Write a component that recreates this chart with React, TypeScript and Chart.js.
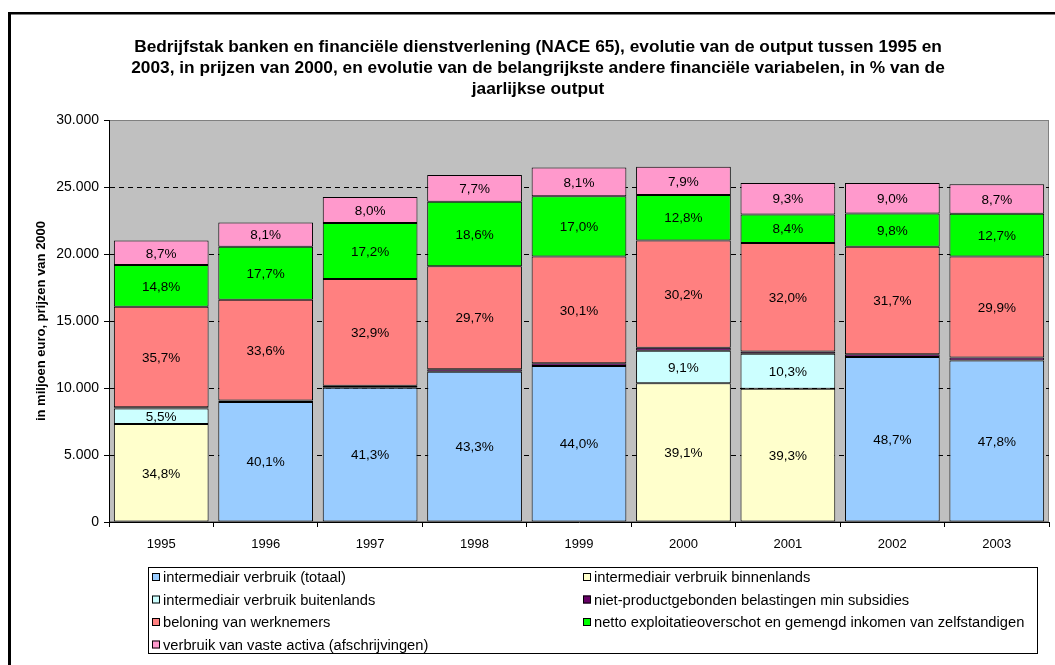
import React, { useEffect, useRef } from 'react';
import { Chart, registerables } from 'chart.js';

Chart.register(...registerables);

const FONT = '"Liberation Sans", Arial, sans-serif';

const titleLines = [
  'Bedrijfstak banken en financiële dienstverlening (NACE 65), evolutie van de output tussen 1995 en',
  '2003, in prijzen van 2000, en evolutie van de belangrijkste andere financiële variabelen, in % van de',
  'jaarlijkse output',
];
const yAxisTitle = 'in miljoen euro, prijzen van 2000';

const years = ['1995', '1996', '1997', '1998', '1999', '2000', '2001', '2002', '2003'];

// values in million euro
const totaalValues = [null, 8962, 10015, 11215, 11638, null, null, 12321, 12046];
const binnenlandsValues = [7308, null, null, null, null, 10362, 9943, null, null];
const buitenlandsValues = [1155, null, null, null, null, 2412, 2606, null, null];
const belastingValues = [105, 112, 146, 181, 212, 239, 177, 202, 227];
const beloningValues = [7497, 7510, 7978, 7692, 7961, 8003, 8096, 8020, 7535];
const nettoValues = [3108, 3956, 4171, 4817, 4497, 3392, 2125, 2479, 3200];
const afschrijvingValues = [1827, 1810, 1940, 1994, 2142, 2094, 2353, 2277, 2192];

// percentage labels (% of yearly output)
const totaalPct = [null, 40.1, 41.3, 43.3, 44.0, null, null, 48.7, 47.8];
const binnenlandsPct = [34.8, null, null, null, null, 39.1, 39.3, null, null];
const buitenlandsPct = [5.5, null, null, null, null, 9.1, 10.3, null, null];
const belastingPct = [null, null, null, null, null, null, null, null, null];
const beloningPct = [35.7, 33.6, 32.9, 29.7, 30.1, 30.2, 32.0, 31.7, 29.9];
const nettoPct = [14.8, 17.7, 17.2, 18.6, 17.0, 12.8, 8.4, 9.8, 12.7];
const afschrijvingPct = [8.7, 8.1, 8.0, 7.7, 8.1, 7.9, 9.3, 9.0, 8.7];

const seriesLabels = [
  'intermediair verbruik (totaal)',
  'intermediair verbruik binnenlands',
  'intermediair verbruik buitenlands',
  'niet-productgebonden belastingen min subsidies',
  'beloning van werknemers',
  'netto exploitatieoverschot en gemengd inkomen van zelfstandigen',
  'verbruik van vaste activa (afschrijvingen)',
];
const seriesColors = ['#99CCFF', '#FFFFCC', '#CCFFFF', '#660066', '#FF8080', '#00FF00', '#FF99CC'];
const seriesValues = [
  totaalValues,
  binnenlandsValues,
  buitenlandsValues,
  belastingValues,
  beloningValues,
  nettoValues,
  afschrijvingValues,
];
const seriesPct = [totaalPct, binnenlandsPct, buitenlandsPct, belastingPct, beloningPct, nettoPct, afschrijvingPct];

const yMin = 0;
const yMax = 30000;
const yStep = 5000;

const fmtThousands = (v: number) => String(v).replace(/\B(?=(\d{3})+(?!\d))/g, '.');
const fmtPct = (v: number) => v.toFixed(1).replace('.', ',') + '%';

const framePlugin = {
  id: 'frameAndBackground',
  beforeDraw(chart: any) {
    const { ctx, chartArea } = chart;
    ctx.save();
    ctx.fillStyle = '#FFFFFF';
    ctx.fillRect(0, 0, chart.width, chart.height);
    ctx.fillStyle = '#000000';
    ctx.fillRect(8, 12, 3, chart.height);
    ctx.fillRect(8, 12, chart.width, 2.5);
    ctx.fillStyle = '#C0C0C0';
    ctx.fillRect(chartArea.left, chartArea.top, chartArea.right - chartArea.left, chartArea.bottom - chartArea.top);
    ctx.strokeStyle = '#808080';
    ctx.lineWidth = 1;
    ctx.strokeRect(chartArea.left + 0.5, chartArea.top + 0.5, chartArea.right - chartArea.left - 1, chartArea.bottom - chartArea.top - 1);
    ctx.restore();
  },
};

const labelPlugin = {
  id: 'segmentLabels',
  afterDatasetsDraw(chart: any) {
    const { ctx } = chart;
    ctx.save();
    ctx.font = `13.5px ${FONT}`;
    ctx.fillStyle = '#000000';
    ctx.textAlign = 'center';
    ctx.textBaseline = 'middle';
    chart.data.datasets.forEach((ds: any, i: number) => {
      const meta = chart.getDatasetMeta(i);
      const pcts = seriesPct[i];
      meta.data.forEach((el: any, j: number) => {
        const p = pcts[j];
        if (p == null || ds.data[j] == null) return;
        const c = el.getCenterPoint();
        ctx.fillText(fmtPct(p), c.x, c.y + 1);
      });
    });
    ctx.restore();
  },
};

const legendPlugin = {
  id: 'gridLegend',
  afterDraw(chart: any) {
    const { ctx } = chart;
    const box = { x: 148, y: 567, w: 889, h: 86 };
    const colX = [152, 583];
    const rowY = [577, 599.5, 622, 644.5];
    ctx.save();
    ctx.fillStyle = '#FFFFFF';
    ctx.fillRect(box.x, box.y, box.w, box.h);
    ctx.strokeStyle = '#000000';
    ctx.lineWidth = 1;
    ctx.strokeRect(box.x + 0.5, box.y + 0.5, box.w, box.h);
    ctx.font = `14.7px ${FONT}`;
    ctx.textAlign = 'left';
    ctx.textBaseline = 'middle';
    chart.data.datasets.forEach((ds: any, i: number) => {
      const col = i % 2;
      const row = Math.floor(i / 2);
      const x = colX[col];
      const y = rowY[row];
      ctx.fillStyle = ds.backgroundColor;
      ctx.fillRect(x, y - 4, 8, 8);
      ctx.strokeStyle = '#000000';
      ctx.strokeRect(x + 0.5, y - 3.5, 7, 7);
      ctx.fillStyle = '#000000';
      ctx.fillText(ds.label, x + 11, y + 1);
    });
    ctx.restore();
  },
};

export default function App() {
  const canvasRef = useRef<HTMLCanvasElement | null>(null);

  useEffect(() => {
    const canvas = canvasRef.current;
    if (!canvas) return;
    Chart.defaults.font.family = FONT;
    Chart.defaults.color = '#000000';

    const chart = new Chart(canvas, {
      type: 'bar',
      data: {
        labels: years,
        datasets: seriesLabels.map((label, i) => ({
          label,
          data: seriesValues[i],
          backgroundColor: seriesColors[i],
          borderColor: '#000000',
          borderWidth: 1,
          borderSkipped: false,
          barPercentage: 0.907,
          categoryPercentage: 1,
        })),
      },
      options: {
        responsive: false,
        animation: false,
        layout: { padding: { top: 15, left: 27, right: 6, bottom: 113 } },
        plugins: {
          legend: { display: false },
          tooltip: { enabled: false },
          title: {
            display: true,
            text: titleLines,
            color: '#000000',
            font: { size: 17.3, weight: 'bold', family: FONT, lineHeight: 21 / 17.3 },
            padding: { top: 22, bottom: 20 },
          },
        },
        scales: {
          x: {
            stacked: true,
            afterFit: (s: any) => {
              s.height = 30;
            },
            grid: {
              display: true,
              drawOnChartArea: false,
              drawTicks: true,
              tickLength: 5,
              tickColor: '#000000',
              offset: true,
            },
            border: { display: true, color: '#000000', width: 1 },
            ticks: { font: { size: 13, family: FONT }, color: '#000000', padding: 10, maxRotation: 0 },
          },
          y: {
            stacked: true,
            min: yMin,
            max: yMax,
            afterFit: (s: any) => {
              s.width = 82;
            },
            grid: {
              display: true,
              drawOnChartArea: true,
              drawTicks: true,
              tickLength: 5,
              tickColor: '#000000',
              tickBorderDash: [],
              color: (ctx: any) =>
                ctx.tick && (ctx.tick.value === yMax || ctx.tick.value === yMin) ? 'rgba(0,0,0,0)' : '#000000',
              lineWidth: 1,
            },
            border: { display: true, color: '#000000', width: 1, dash: [5, 4] },
            ticks: {
              stepSize: yStep,
              font: { size: 14, family: FONT },
              color: '#000000',
              padding: 5,
              callback: (v: any) => fmtThousands(Number(v)),
            },
            title: {
              display: true,
              text: yAxisTitle,
              color: '#000000',
              font: { size: 13, weight: 'bold', family: FONT },
              padding: { top: 7, bottom: 0 },
            },
          },
        },
      },
      plugins: [framePlugin, labelPlugin, legendPlugin],
    } as any);

    return () => chart.destroy();
  }, []);

  return (
    <canvas
      ref={canvasRef}
      width={1055}
      height={665}
      style={{ position: 'fixed', left: 0, top: 0, width: 1055, height: 665, display: 'block' }}
    />
  );
}
